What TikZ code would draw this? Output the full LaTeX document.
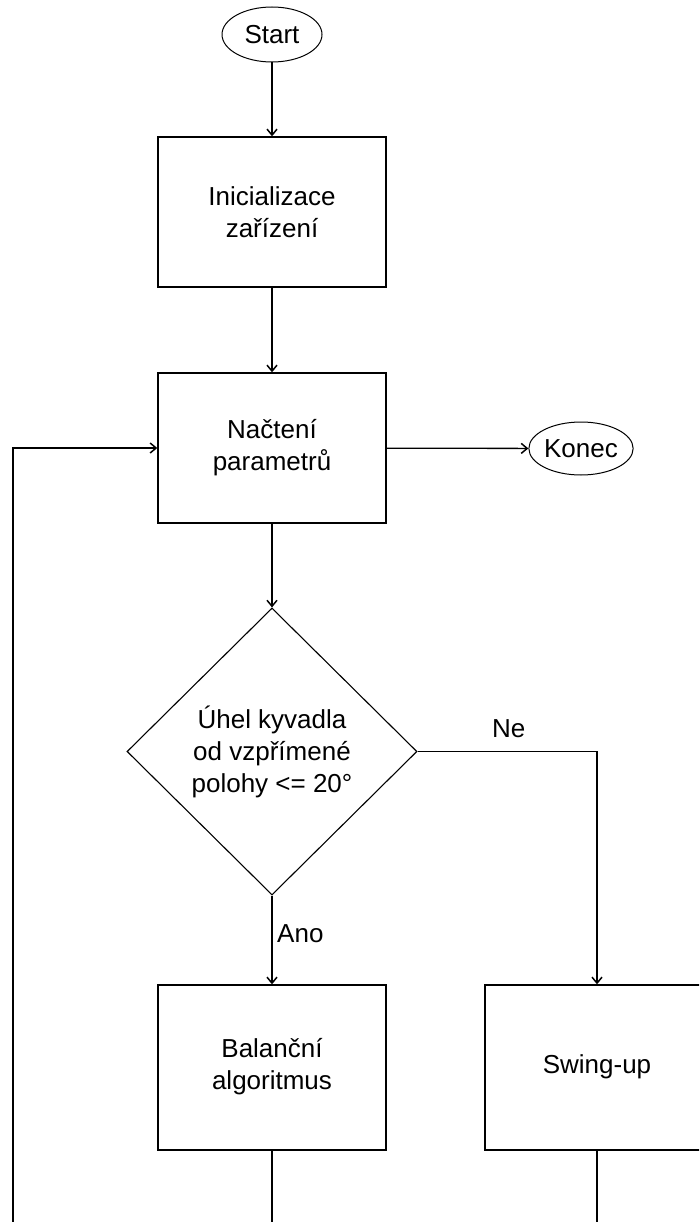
\documentclass[tikz,border=0pt]{standalone}
\usepackage{fontspec}
\setmainfont{Liberation Sans}
\usetikzlibrary{shapes.geometric,arrows.meta}
\begin{document}
\begin{tikzpicture}[x=1pt,y=-1pt,
  every node/.style={font={\fontsize{26}{32}\selectfont}, text=black},
  box/.style={draw=black, line width=1.4pt, rectangle, minimum width=228pt, inner sep=0pt, align=center},
  term/.style={draw=black, line width=1pt, ellipse, inner sep=0pt},
  decision/.style={draw=black, line width=1.1pt, diamond, minimum width=290pt, minimum height=287pt, inner sep=0pt, align=center},
  conn/.style={line width=1.3pt, draw=black},
  arr/.style={conn, -{Straight Barb[length=6pt,width=10pt,line width=1.5pt]}},
  lbl/.style={anchor=base west, inner sep=0pt}
]
\useasboundingbox (0,0) rectangle (699,1222);
\clip (0,0) rectangle (699,1222);
\fill[white] (0,0) rectangle (699,1222);

\node[term, minimum width=100pt, minimum height=55pt] (start) at (272,34.5) {Start};
\node[box, minimum height=150pt] (init) at (272,212) {Inicializace\\zařízení};
\node[box, minimum height=150pt] (read) at (272,448) {Načtení\\parametrů};
\node[term, minimum width=102pt, minimum height=53pt] (end) at (581,448.5) {Konec};
\node[decision] (dec) at (272,751.5) {Úhel kyvadla\\od vzpřímené\\polohy <= 20°};
\node[box, minimum height=165pt] (bal) at (272,1067.5) {\raisebox{7pt}{\begin{tabular}{@{}c@{}}Balanční\\algoritmus\end{tabular}}};
\node[box, minimum width=224pt, minimum height=165pt] (swing) at (597,1067.5) {\raisebox{7pt}{Swing-up}};

\coordinate (loopbot) at (13,1222);
\coordinate (balbot) at (272,1222);
\coordinate (swingbot) at (597,1222);

\draw[arr] (start) -- (init);
\draw[arr] (init) -- (read);
\draw[arr] (read) -- (end);
\draw[arr] (read) -- (dec);
\draw[arr] (dec.east) -| (swing.north);
\draw[arr] (dec.south) -- (bal.north);
\draw[conn] (bal.south) -- (balbot);
\draw[conn] (swing.south) -- (swingbot);
\draw[arr] (loopbot) |- (read.west);

\node[lbl] (ne) at (492,737) {Ne};
\node[lbl] (ano) at (277,942) {Ano};
\end{tikzpicture}
\end{document}
